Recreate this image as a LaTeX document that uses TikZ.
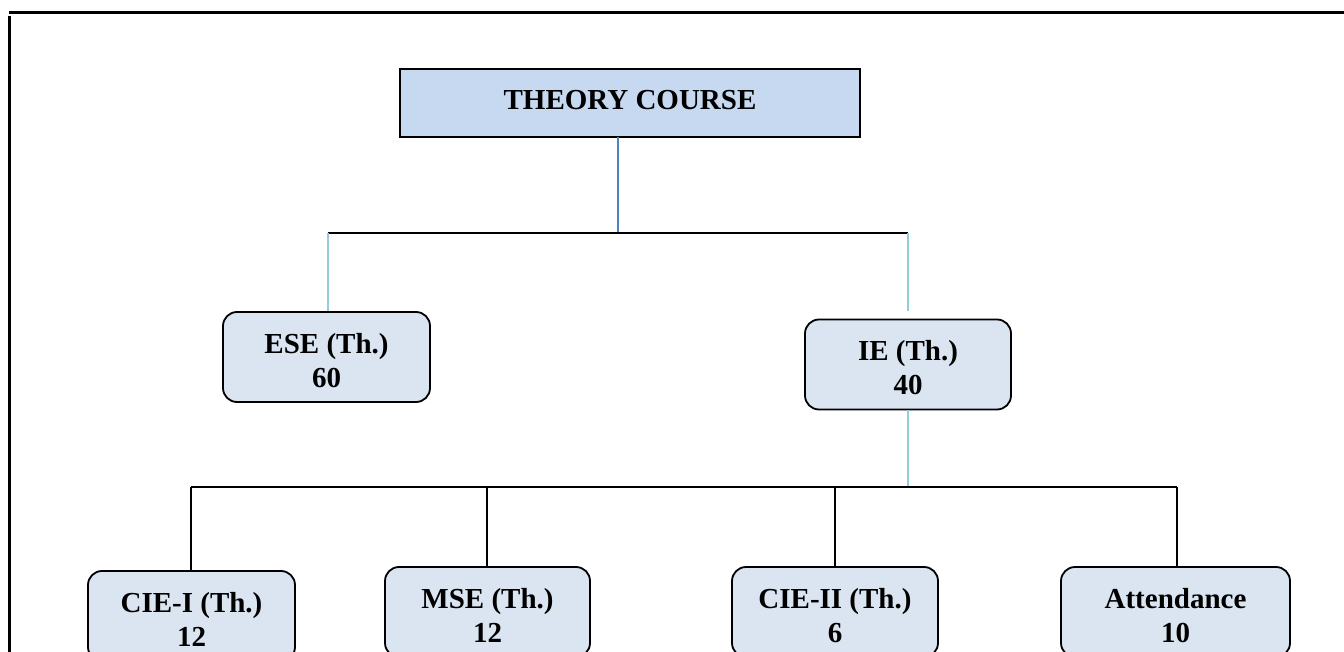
\documentclass[tikz,border=0pt]{standalone}
\usepackage{fontspec}
\setmainfont{Liberation Serif}
\definecolor{topfill}{HTML}{C6D9F1}
\definecolor{boxfill}{HTML}{DBE5F1}
\definecolor{darkblue}{HTML}{4F81BD}
\definecolor{lightblue}{HTML}{92CDDC}
\tikzset{
  topbox/.style={draw=black, line width=2pt, fill=topfill, minimum width=460pt, minimum height=68pt, inner sep=0pt, text depth=6pt, font=\fontsize{29}{34}\selectfont\bfseries},
  rbox/.style={draw=black, line width=1.8pt, fill=boxfill, rounded corners=14pt, minimum height=90pt, inner sep=0pt, align=center, text height=60pt, text depth=0pt, font=\fontsize{29}{34}\selectfont\bfseries},
  bline/.style={draw=black, line width=2pt},
  blueline/.style={draw=darkblue, line width=2.2pt},
  lbline/.style={draw=lightblue, line width=2.5pt},
  frame/.style={draw=black, line width=3pt}
}
\begin{document}
\begin{tikzpicture}[x=1pt, y=-1pt]
\clip (0,0) rectangle (1344,652);
\fill[white] (0,0) rectangle (1344,652);
% frame
\coordinate (ftl) at (9,13);
\coordinate (ftr) at (1344,13);
\coordinate (flt) at (9.5,16);
\coordinate (flb) at (9.5,652);
\draw[frame] (ftl) -- (ftr);
\draw[frame] (flt) -- (flb);
% nodes
\node[topbox] (tc) at (630,103) {THEORY COURSE};
\node[rbox, minimum width=207pt] (ese) at (326.5,357) {ESE (Th.)\\60};
\node[rbox, minimum width=206pt] (ie) at (908,364.5) {IE (Th.)\\40};
\node[rbox, minimum width=207pt] (c1) at (191.5,616) {CIE-I (Th.)\\12};
\node[rbox, minimum width=205pt] (mse) at (487.5,612) {MSE (Th.)\\12};
\node[rbox, minimum width=206pt] (c2) at (835,612) {CIE-II (Th.)\\6};
\node[rbox, minimum width=229pt] (att) at (1175.5,612) {Attendance\\10};
% connector coordinates
\coordinate (tcb) at (618,137);
\coordinate (j1) at (618,233);
\coordinate (j1l) at (328,233);
\coordinate (j1r) at (908,233);
\coordinate (iet) at (908,311);
\coordinate (j2) at (908,487);
\coordinate (j2a) at (191,487);
\coordinate (j2b) at (487,487);
\coordinate (j2c) at (835,487);
\coordinate (j2d) at (1177,487);
% connectors
\draw[blueline] (tcb) -- (j1);
\draw[bline] (j1l) -- (j1r);
\draw[lbline] (j1l) -- (j1l |- ese.north);
\draw[lbline] (j1r) -- (iet);
\draw[lbline] (ie.south) -- (j2);
\draw[bline] (j2a) -- (j2d);
\draw[bline] (j2a) -- (j2a |- c1.north);
\draw[bline] (j2b) -- (j2b |- mse.north);
\draw[bline] (j2c) -- (j2c |- c2.north);
\draw[bline] (j2d) -- (j2d |- att.north);
\end{tikzpicture}
\end{document}
